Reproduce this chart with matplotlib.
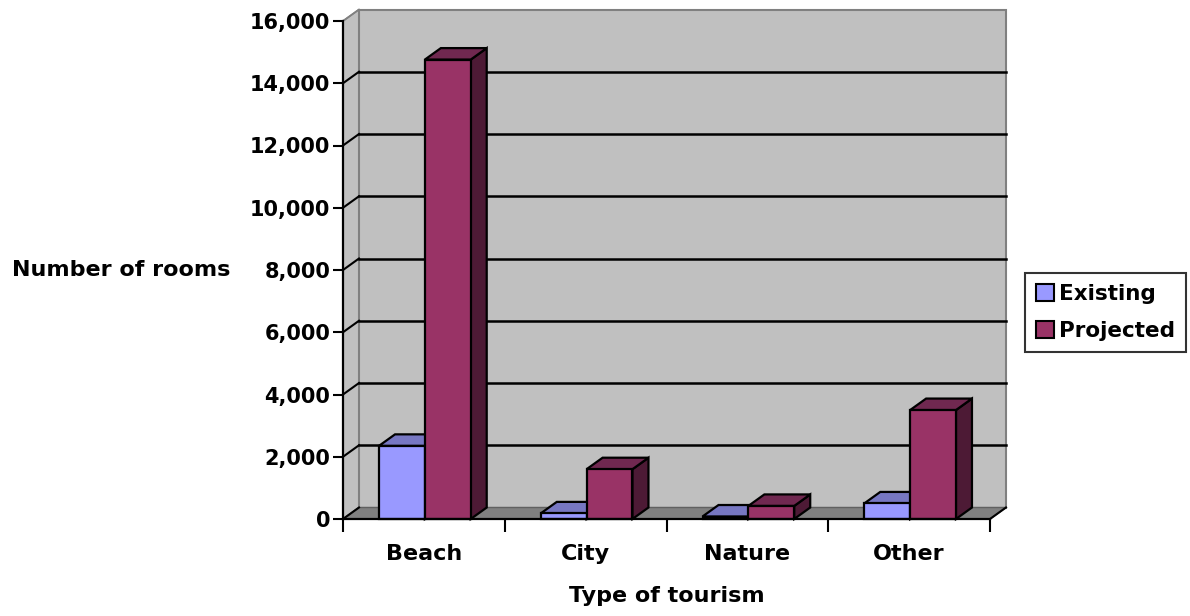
import matplotlib
matplotlib.use("Agg")
import matplotlib.pyplot as plt
from matplotlib.patches import Polygon, Patch
from matplotlib.ticker import FuncFormatter, FixedLocator

categories = ["Beach", "City", "Nature", "Other"]
existing = [2350, 180, 80, 500]
projected = [14760, 1600, 420, 3500]
series_names = ["Existing", "Projected"]
yticks = list(range(0, 16001, 2000))

W, H = 1190, 616
fig = plt.figure(figsize=(W / 100, H / 100), dpi=100)
fig.patch.set_facecolor("white")

# front plot box in pixels
x0p, x1p, y0p, y1p = 343, 990, 519, 21
ax = fig.add_axes([x0p / W, 1 - y0p / H, (x1p - x0p) / W, (y0p - y1p) / H])
ax.set_xlim(0, 4)
ax.set_ylim(0, 16000)
ax.set_facecolor("none")

px_x = 4 / (x1p - x0p)           # data units per pixel (x)
px_y = 16000 / (y0p - y1p)       # data units per pixel (y)
ddx = 16 * px_x
ddy = 11.5 * px_y
ymax = 16000

wall_c = "#C0C0C0"
floor_c = "#808080"
edge_gray = "#808080"

# side wall
ax.add_patch(Polygon([(0, 0), (ddx, ddy), (ddx, ymax + ddy), (0, ymax)], closed=True,
                     facecolor=wall_c, edgecolor=edge_gray, lw=1.2, clip_on=False, zorder=0.5))
# back wall
ax.add_patch(Polygon([(ddx, ddy), (4 + ddx, ddy), (4 + ddx, ymax + ddy), (ddx, ymax + ddy)], closed=True,
                     facecolor=wall_c, edgecolor=edge_gray, lw=1.5, clip_on=False, zorder=0.5))
# floor
ax.add_patch(Polygon([(0, 0), (4, 0), (4 + ddx, ddy), (ddx, ddy)], closed=True,
                     facecolor=floor_c, edgecolor="#606060", lw=1.0, clip_on=False, zorder=0.6))

# gridlines (back wall + side wall)
for v in yticks:
    if v == 0:
        ax.plot([0, ddx], [0, ddy], color="black", lw=1.5, clip_on=False, zorder=0.8)
        continue
    if v < ymax:
        ax.plot([ddx, 4 + ddx], [v + ddy, v + ddy], color="black", lw=1.8, clip_on=False, zorder=0.8)
        ax.plot([0, ddx], [v, v + ddy], color="black", lw=1.5, clip_on=False, zorder=0.8)
    else:
        ax.plot([0, ddx], [v, v + ddy], color=edge_gray, lw=1.2, clip_on=False, zorder=0.8)
# right floor edge
ax.plot([4, 4 + ddx], [0, ddy], color="black", lw=1.5, clip_on=False, zorder=0.9)

# bars
bw = 0.2835
start = 0.2226
colors = {
    "Existing": ("#9999FF", "#7777C2", "#4D4D80"),
    "Projected": ("#993366", "#702850", "#4D1A35"),
}
z = 2
for i in range(len(categories)):
    for j, (name, vals) in enumerate(zip(series_names, [existing, projected])):
        front, top, side = colors[name]
        v = vals[i]
        xa = i + start + j * bw
        xb = xa + bw
        ax.add_patch(Polygon([(xb, 0), (xb + ddx, ddy), (xb + ddx, v + ddy), (xb, v)], closed=True,
                             facecolor=side, edgecolor="black", lw=1.6, joinstyle="miter",
                             clip_on=False, zorder=z))
        ax.add_patch(Polygon([(xa, v), (xa + ddx, v + ddy), (xb + ddx, v + ddy), (xb, v)], closed=True,
                             facecolor=top, edgecolor="black", lw=1.6, joinstyle="miter",
                             clip_on=False, zorder=z + 0.1))
        ax.bar([xa], [v], width=bw, align="edge", color=front, edgecolor="black", lw=1.6,
               clip_on=False, zorder=z + 0.2)
        z += 1

# spines
for s in ["top", "right"]:
    ax.spines[s].set_visible(False)
for s in ["left", "bottom"]:
    ax.spines[s].set_color("black")
    ax.spines[s].set_linewidth(1.6)
    ax.spines[s].set_zorder(50)

ax.set_yticks(yticks)
ax.yaxis.set_major_formatter(FuncFormatter(lambda v, p: f"{int(v):,}"))
ax.tick_params(axis="y", direction="out", length=7, width=1.5, pad=2, labelsize=15)
for lab in ax.get_yticklabels():
    lab.set_fontweight("bold")

ax.xaxis.set_major_locator(FixedLocator([0, 1, 2, 3, 4]))
ax.xaxis.set_minor_locator(FixedLocator([0.5, 1.5, 2.5, 3.5]))
ax.set_xticklabels([], minor=False)
ax.set_xticklabels(categories, minor=True, fontsize=16, fontweight="bold")
ax.tick_params(axis="x", which="major", direction="out", length=9.5, width=1.5)
ax.tick_params(axis="x", which="minor", length=0, pad=18)

ax.set_xlabel("Type of tourism", fontsize=16, fontweight="bold", labelpad=16)
fig.text(12 / W, 1 - 270 / H, "Number of rooms", fontsize=16, fontweight="bold",
         ha="left", va="center")

handles = [Patch(facecolor=colors[n][0], edgecolor="black", lw=1.5) for n in series_names]
leg = fig.legend(handles, series_names, loc="upper left",
                 bbox_to_anchor=(1025 / W, 1 - 273 / H),
                 prop={"weight": "bold", "size": 15.5},
                 frameon=True, fancybox=False, shadow=False,
                 borderpad=0.5, handlelength=0.85, handleheight=0.85,
                 handletextpad=0.25, labelspacing=0.8, borderaxespad=0)
leg.get_frame().set_edgecolor("black")
leg.get_frame().set_linewidth(1.5)

fig.savefig("out.png", dpi=100, facecolor="white")
